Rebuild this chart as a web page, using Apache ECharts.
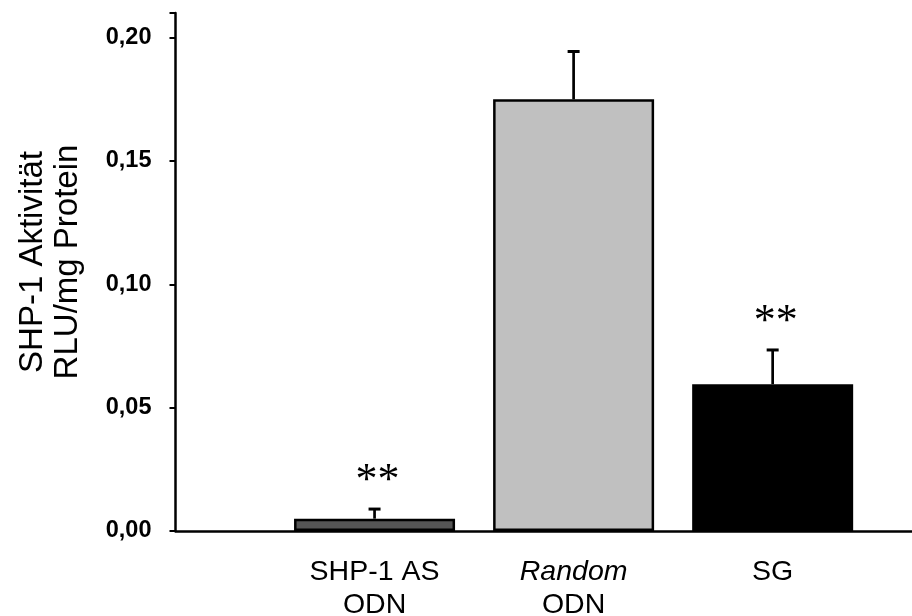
<!DOCTYPE html>
<html><head><meta charset="utf-8">
<script src="https://cdn.jsdelivr.net/npm/echarts@6/dist/echarts.min.js"></script>
<style>html,body{margin:0;padding:0;background:#fff}#c{width:912px;height:616px}</style>
</head><body><div id="c"></div>
<script>
const categories = ['SHP-1 AS\nODN', '{i|Random}\nODN', 'SG'];
const categoryPos = [1, 2, 3];
const means = [0.005, 0.175, 0.0595];
const errTops = [0.0095, 0.195, 0.074];
const significance = ['**', '', '**'];
const yTicks = [0, 0.05, 0.10, 0.15, 0.20];
const barFills = ['#555555', '#c0c0c0', '#000000'];

const chart = echarts.init(document.getElementById('c'), null, {renderer: 'canvas'});
const FONT = 'Liberation Sans';

const barData = means.map((v, i) => ({
  value: [categoryPos[i], v],
  itemStyle: {color: barFills[i], borderColor: '#000', borderWidth: 2.5}
}));
const errData = means.map((v, i) => [categoryPos[i], v, errTops[i], i]);

chart.setOption({
  animation: false,
  grid: {left: 175.5, right: 0, top: 13, bottom: 85, containLabel: false, outerBoundsMode: 'none'},
  xAxis: {
    type: 'value', min: 0, max: 3.7, interval: 1,
    splitLine: {show: false},
    axisTick: {show: false},
    axisLine: {lineStyle: {color: '#000', width: 2.5}},
    axisLabel: {
      showMaxLabel: false,
      margin: 25,
      color: '#000', fontFamily: FONT, fontSize: 28.5, lineHeight: 33,
      formatter: function (v) {
        const idx = categoryPos.indexOf(Math.round(v));
        return (Math.abs(v - Math.round(v)) < 1e-6 && idx >= 0) ? categories[idx] : '';
      },
      rich: {i: {fontStyle: 'italic', fontFamily: FONT, fontSize: 28.5, color: '#000', lineHeight: 33}}
    }
  },
  yAxis: {
    type: 'value', min: 0, max: 0.21, interval: 0.05,
    splitLine: {show: false},
    axisLine: {show: true, lineStyle: {color: '#000', width: 2.5}},
    axisTick: {show: true, length: 6, lineStyle: {color: '#000', width: 2}},
    axisLabel: {
      margin: 24, color: '#000', fontFamily: FONT, fontSize: 23.5, fontWeight: 'bold',
      formatter: function (v) {
        const ok = yTicks.some(t => Math.abs(t - v) < 1e-9);
        return ok ? v.toFixed(2).replace('.', ',') : '';
      }
    },
    name: 'SHP-1 Aktivität\nRLU/mg Protein',
    nameLocation: 'middle',
    nameRotate: 90,
    nameGap: 90,
    nameTextStyle: {color: '#000', fontFamily: FONT, fontSize: 33, lineHeight: 35, padding: [0, 0, 0, 20]}
  },
  series: [
    {
      type: 'bar', data: barData, barWidth: 161, z: 2
    },
    {
      type: 'custom', z: 3, data: errData,
      renderItem: function (params, api) {
        const x = api.value(0);
        const base = api.coord([x, api.value(1)]);
        const top = api.coord([x, api.value(2)]);
        const idx = api.value(3);
        const children = [
          {type: 'line', shape: {x1: base[0], y1: base[1], x2: top[0], y2: top[1] + 1.5},
           style: {stroke: '#000', lineWidth: 2.7}},
          {type: 'line', shape: {x1: top[0] - 6, y1: top[1] + 1.5, x2: top[0] + 6, y2: top[1] + 1.5},
           style: {stroke: '#000', lineWidth: 3}}
        ];
        if (significance[idx]) {
          children.push({type: 'text', x: top[0] + 3, y: top[1] - 26,
            style: {text: significance[idx], fill: '#000', font: '44px Liberation Serif',
              align: 'center', verticalAlign: 'middle'}});
        }
        return {type: 'group', children: children};
      }
    }
  ]
});
</script></body></html>
